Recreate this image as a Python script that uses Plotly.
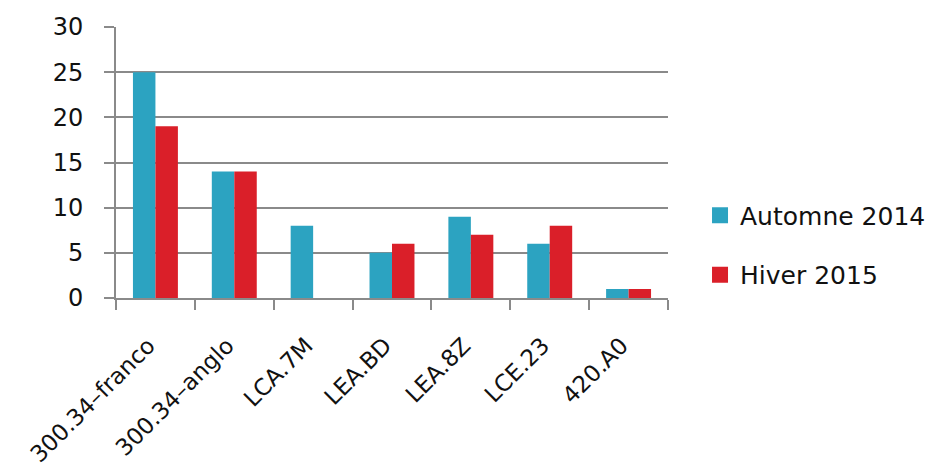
import plotly.graph_objects as go

categories = ["300.34–franco", "300.34–anglo", "LCA.7M", "LEA.BD", "LEA.8Z", "LCE.23", "420.A0"]
automne_2014 = [25, 14, 8, 5, 9, 6, 1]
hiver_2015 = [19, 14, 0, 6, 7, 8, 1]
series_names = ["Automne 2014", "Hiver 2015"]
y_ticks = [0, 5, 10, 15, 20, 25, 30]

TEAL = "#2CA3C1"
RED = "#DA1F29"
GRID = "#8a8a8a"
FONT = "DejaVu Sans, sans-serif"

fig = go.Figure()
fig.add_trace(go.Bar(x=categories, y=automne_2014, name=series_names[0],
                     marker=dict(color=TEAL, line=dict(width=0)), showlegend=False))
fig.add_trace(go.Bar(x=categories, y=hiver_2015, name=series_names[1],
                     marker=dict(color=RED, line=dict(width=0)), showlegend=False))
# legend entries with larger square swatches
for nm, col, grp in [(series_names[0], TEAL, "a"), (series_names[1], RED, "b")]:
    fig.add_trace(go.Scatter(x=[None], y=[None], mode="markers", name=nm,
                             marker=dict(symbol="square", size=19, color=col),
                             legendgroup=grp, showlegend=True))

fig.update_layout(
    width=927, height=462,
    margin=dict(l=108, r=267, t=19, b=172, autoexpand=False),
    paper_bgcolor="white", plot_bgcolor="white",
    barmode="group", bargap=0.43, bargroupgap=0,
    font=dict(family=FONT, size=22, color="#111"),
    legend=dict(x=1.058, y=0.196, yanchor="middle", xanchor="left",
                font=dict(size=25, family=FONT, color="#111"),
                tracegroupgap=24, itemwidth=30),
    showlegend=True,
)
fig.update_xaxes(
    tickangle=-45, ticks="outside", tickson="boundaries", ticklen=10,
    tickcolor=GRID, tickwidth=2, showline=True, linecolor=GRID, linewidth=2,
    showgrid=False, tickfont=dict(size=23, family=FONT, color="#111"),
    ticklabelstandoff=23, ticklabelshift=-7,
    automargin=False,
)
fig.update_yaxes(
    range=[0, 30], tickvals=y_ticks, ticks="outside", ticklen=10,
    tickcolor=GRID, tickwidth=2, showline=True, linecolor=GRID, linewidth=2,
    showgrid=True, gridcolor=GRID, gridwidth=2, zeroline=False,
    tickfont=dict(size=24, family=FONT, color="#111"), ticklabelstandoff=16,
    automargin=False,
)

fig.write_html("out.html")
